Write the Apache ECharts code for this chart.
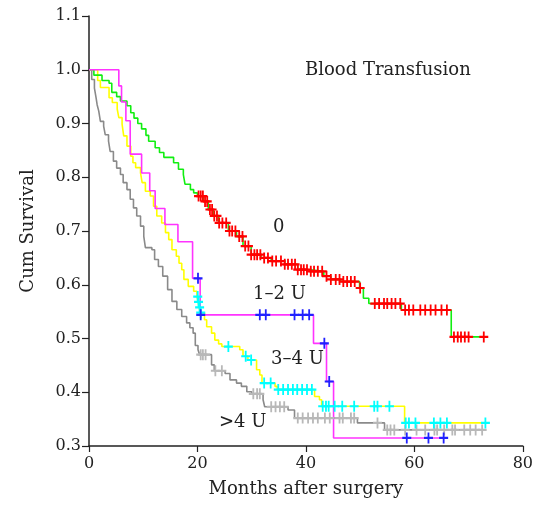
<!DOCTYPE html>
<html>
<head>
<meta charset="utf-8">
<script src="https://cdn.jsdelivr.net/npm/echarts@6/dist/echarts.min.js"></script>
<style>
html, body { margin: 0; padding: 0; background: #fff; }
#main { width: 536px; height: 506px; }
</style>
</head>
<body>
<div id="main"></div>
<script>
// group "0" (no transfusion) - event times (months) and survival after each drop
const t0 = [0, 0.9, 2.4, 3.7, 4.2, 5.1, 5.8, 7.0, 7.7, 8.3, 9.0, 9.7, 10.5, 11.0, 12.2, 13.0, 13.8, 15.6, 16.5, 17.4, 17.7, 18.7, 19.3, 20.0, 21.1, 22.0, 22.9, 23.9, 25.7, 27.2, 28.4, 29.9, 31.7, 33.6, 36.1, 38.5, 40.9, 43.3, 44.6, 46.4, 49.9, 50.6, 51.6, 57.6, 66.8];
const s0 = [1.0, 0.99, 0.98, 0.975, 0.958, 0.95, 0.942, 0.933, 0.92, 0.91, 0.9, 0.89, 0.878, 0.867, 0.855, 0.846, 0.837, 0.827, 0.815, 0.805, 0.787, 0.777, 0.771, 0.765, 0.755, 0.74, 0.728, 0.715, 0.70, 0.69, 0.672, 0.656, 0.65, 0.644, 0.638, 0.628, 0.625, 0.616, 0.61, 0.606, 0.594, 0.575, 0.565, 0.553, 0.503];
const end0 = 73.2;
const cens0 = [20.2, 20.6, 21.0, 21.4, 21.8, 22.3, 22.7, 23.1, 23.6, 24.0, 24.6, 25.3, 25.9, 26.4, 27.0, 27.7, 28.3, 28.8, 29.4, 29.9, 30.5, 31.0, 31.6, 32.3, 33.0, 33.8, 34.5, 35.4, 36.1, 36.7, 37.4, 38.0, 38.5, 39.1, 39.6, 40.2, 40.9, 41.5, 42.2, 43.0, 43.8, 44.6, 45.5, 46.2, 46.9, 47.6, 48.3, 49.0, 50.0, 52.7, 53.5, 54.4, 55.0, 55.8, 56.5, 57.4, 58.3, 59.0, 59.8, 61.1, 62.0, 63.0, 63.9, 65.0, 66.0, 67.3, 68.0, 68.6, 69.3, 70.0, 72.8];

// group "1–2 U"
const t1 = [0, 5.5, 6.0, 6.8, 7.6, 9.7, 11.2, 12.2, 14.0, 16.4, 19.1, 20.5, 41.4, 43.8, 45.1];
const s1 = [1.0, 0.97, 0.94, 0.905, 0.843, 0.808, 0.775, 0.742, 0.712, 0.68, 0.612, 0.544, 0.491, 0.42, 0.315];
const end1 = 65.7;
const cens1 = [20.1, 20.6, 31.5, 32.6, 37.9, 39.4, 40.6, 43.4, 44.3, 58.6, 62.6, 65.4];

// group "3–4 U"
const t2 = [0, 1.6, 2.1, 3.7, 4.3, 5.2, 5.5, 6.1, 6.4, 7.0, 7.7, 8.1, 8.6, 9.5, 9.8, 10.4, 11.3, 11.9, 12.5, 13.4, 14.1, 14.7, 15.3, 16.1, 16.6, 17.1, 17.5, 18.3, 19.3, 19.9, 20.1, 20.3, 20.5, 21.3, 21.7, 22.6, 23.2, 23.9, 24.5, 27.8, 28.4, 29.3, 30.9, 31.5, 31.9, 34.3, 34.7, 41.6, 42.5, 42.9, 58.2];
const s2 = [1.0, 0.98, 0.967, 0.948, 0.939, 0.927, 0.911, 0.899, 0.877, 0.858, 0.839, 0.827, 0.818, 0.808, 0.79, 0.774, 0.765, 0.746, 0.728, 0.715, 0.697, 0.684, 0.665, 0.653, 0.64, 0.628, 0.61, 0.597, 0.588, 0.578, 0.568, 0.558, 0.548, 0.535, 0.522, 0.51, 0.497, 0.49, 0.485, 0.479, 0.467, 0.46, 0.442, 0.432, 0.417, 0.411, 0.405, 0.392, 0.386, 0.374, 0.343];
const end2 = 73.1;
const cens2 = [20.05, 20.2, 20.4, 20.6, 25.7, 28.9, 29.9, 32.3, 33.5, 34.9, 35.8, 36.7, 37.6, 38.4, 39.3, 40.2, 41.1, 43.1, 43.7, 44.2, 45.3, 46.7, 48.9, 52.6, 53.2, 55.4, 58.4, 59.0, 60.2, 63.6, 64.8, 66.0, 73.1];

// group ">4 U"
const t3 = [0, 0.5, 1.0, 1.3, 1.5, 1.8, 2.1, 2.7, 3.0, 3.6, 3.9, 4.5, 5.1, 5.8, 6.3, 7.0, 7.6, 8.2, 8.8, 9.5, 10.1, 10.4, 11.6, 12.1, 12.8, 13.6, 14.5, 15.3, 16.2, 17.1, 18.0, 18.6, 19.2, 19.6, 20.1, 20.4, 22.6, 23.1, 25.1, 26.0, 27.2, 28.1, 29.1, 30.0, 32.1, 32.4, 36.7, 37.9, 49.5, 54.5];
const s3 = [1.0, 0.982, 0.966, 0.948, 0.935, 0.923, 0.904, 0.895, 0.879, 0.867, 0.848, 0.83, 0.817, 0.805, 0.79, 0.777, 0.759, 0.743, 0.728, 0.709, 0.69, 0.669, 0.665, 0.647, 0.634, 0.616, 0.591, 0.569, 0.554, 0.541, 0.529, 0.52, 0.51, 0.487, 0.479, 0.47, 0.451, 0.44, 0.435, 0.423, 0.417, 0.411, 0.401, 0.397, 0.386, 0.373, 0.367, 0.352, 0.343, 0.33];
const end3 = 72.5;
const cens3 = [20.6, 21.0, 21.5, 23.3, 24.5, 30.3, 31.0, 31.5, 33.6, 34.4, 35.2, 36.0, 38.5, 39.4, 40.4, 41.3, 42.2, 43.5, 44.4, 46.2, 46.8, 48.3, 48.9, 53.2, 55.0, 55.6, 56.3, 58.3, 60.4, 62.0, 63.7, 64.2, 65.5, 67.0, 67.5, 69.2, 70.3, 71.3, 72.5];

const xTicks = [0, 20, 40, 60, 80];
const yTicks = [0.3, 0.4, 0.5, 0.6, 0.7, 0.8, 0.9, 1.0, 1.1];

const FONT = '"DejaVu Serif", "Liberation Serif", serif';
const PLUS = 'path://M4,0H6V4H10V6H6V10H4V6H0V4H4Z';

function stepData(t, s, end) {
  const d = t.map((v, i) => [v, s[i]]);
  d.push([end, s[s.length - 1]]);
  return d;
}
// survival value of the curve at time x (for the censor marks)
function survAt(t, s, x) {
  let k = 0;
  for (let i = 0; i < t.length; i++) if (t[i] <= x) k = i;
  return s[k];
}
function censData(t, s, c) {
  return c.map(x => [x, survAt(t, s, x)]);
}

function line(name, data, color) {
  return {
    name: name, type: 'line', step: 'end', data: data,
    showSymbol: false, silent: true,
    lineStyle: { color: color, width: 1.6 }
  };
}
function marks(name, data, color) {
  return {
    name: name, type: 'scatter', data: data, silent: true,
    symbol: PLUS, symbolSize: [9, 11],
    itemStyle: { color: color, opacity: 1 }, z: 3
  };
}

let myChart = echarts.init(document.getElementById('main'));
let option = {
  animation: false,
  backgroundColor: '#fff',
  grid: { left: 89, right: 10, top: 16, bottom: 60 },
  xAxis: {
    type: 'value', min: xTicks[0], max: xTicks[xTicks.length - 1], interval: 20,
    name: 'Months after surgery', nameLocation: 'middle', nameGap: 34,
    nameTextStyle: { fontFamily: FONT, fontSize: 18, color: '#222' },
    axisLine: { lineStyle: { color: '#222', width: 1.5 } },
    axisTick: { length: 6, lineStyle: { color: '#222', width: 1.2 } },
    axisLabel: { margin: 10, fontFamily: FONT, fontSize: 16, color: '#222' },
    splitLine: { show: false }
  },
  yAxis: {
    type: 'value', min: yTicks[0], max: yTicks[yTicks.length - 1], interval: 0.1,
    name: 'Cum Survival', nameLocation: 'middle', nameGap: 52,
    nameTextStyle: { fontFamily: FONT, fontSize: 18, color: '#222' },
    axisLine: { show: true, lineStyle: { color: '#222', width: 1.5 } },
    axisTick: { show: true, length: 7, lineStyle: { color: '#222', width: 1.2 } },
    axisLabel: { margin: 8, fontFamily: FONT, fontSize: 16, color: '#222',
      formatter: v => v.toFixed(1) },
    splitLine: { show: false }
  },
  graphic: [
    { type: 'text', left: 305, top: 61, style: { text: 'Blood Transfusion', font: '18px ' + FONT, fill: '#222' } },
    { type: 'text', left: 273, top: 218, style: { text: '0', font: '18px ' + FONT, fill: '#222' } },
    { type: 'text', left: 253, top: 285, style: { text: '1–2 U', font: '18px ' + FONT, fill: '#222' } },
    { type: 'text', left: 271, top: 350, style: { text: '3–4 U', font: '18px ' + FONT, fill: '#222' } },
    { type: 'text', left: 219, top: 413, style: { text: '>4 U', font: '18px ' + FONT, fill: '#222' } }
  ],
  series: [
    line('>4 U', stepData(t3, s3, end3), '#8a8a8a'),
    line('3–4 U', stepData(t2, s2, end2), '#ffff00'),
    line('0', stepData(t0, s0, end0), '#11ee11'),
    line('1–2 U', stepData(t1, s1, end1), '#ff33ff'),
    marks('>4 U cens', censData(t3, s3, cens3), '#b8b8b8'),
    marks('3–4 U cens', censData(t2, s2, cens2), '#00ffff'),
    marks('0 cens', censData(t0, s0, cens0), '#ff0000'),
    marks('1–2 U cens', censData(t1, s1, cens1), '#2020ff')
  ]
};
myChart.setOption(option);
</script>
</body>
</html>
